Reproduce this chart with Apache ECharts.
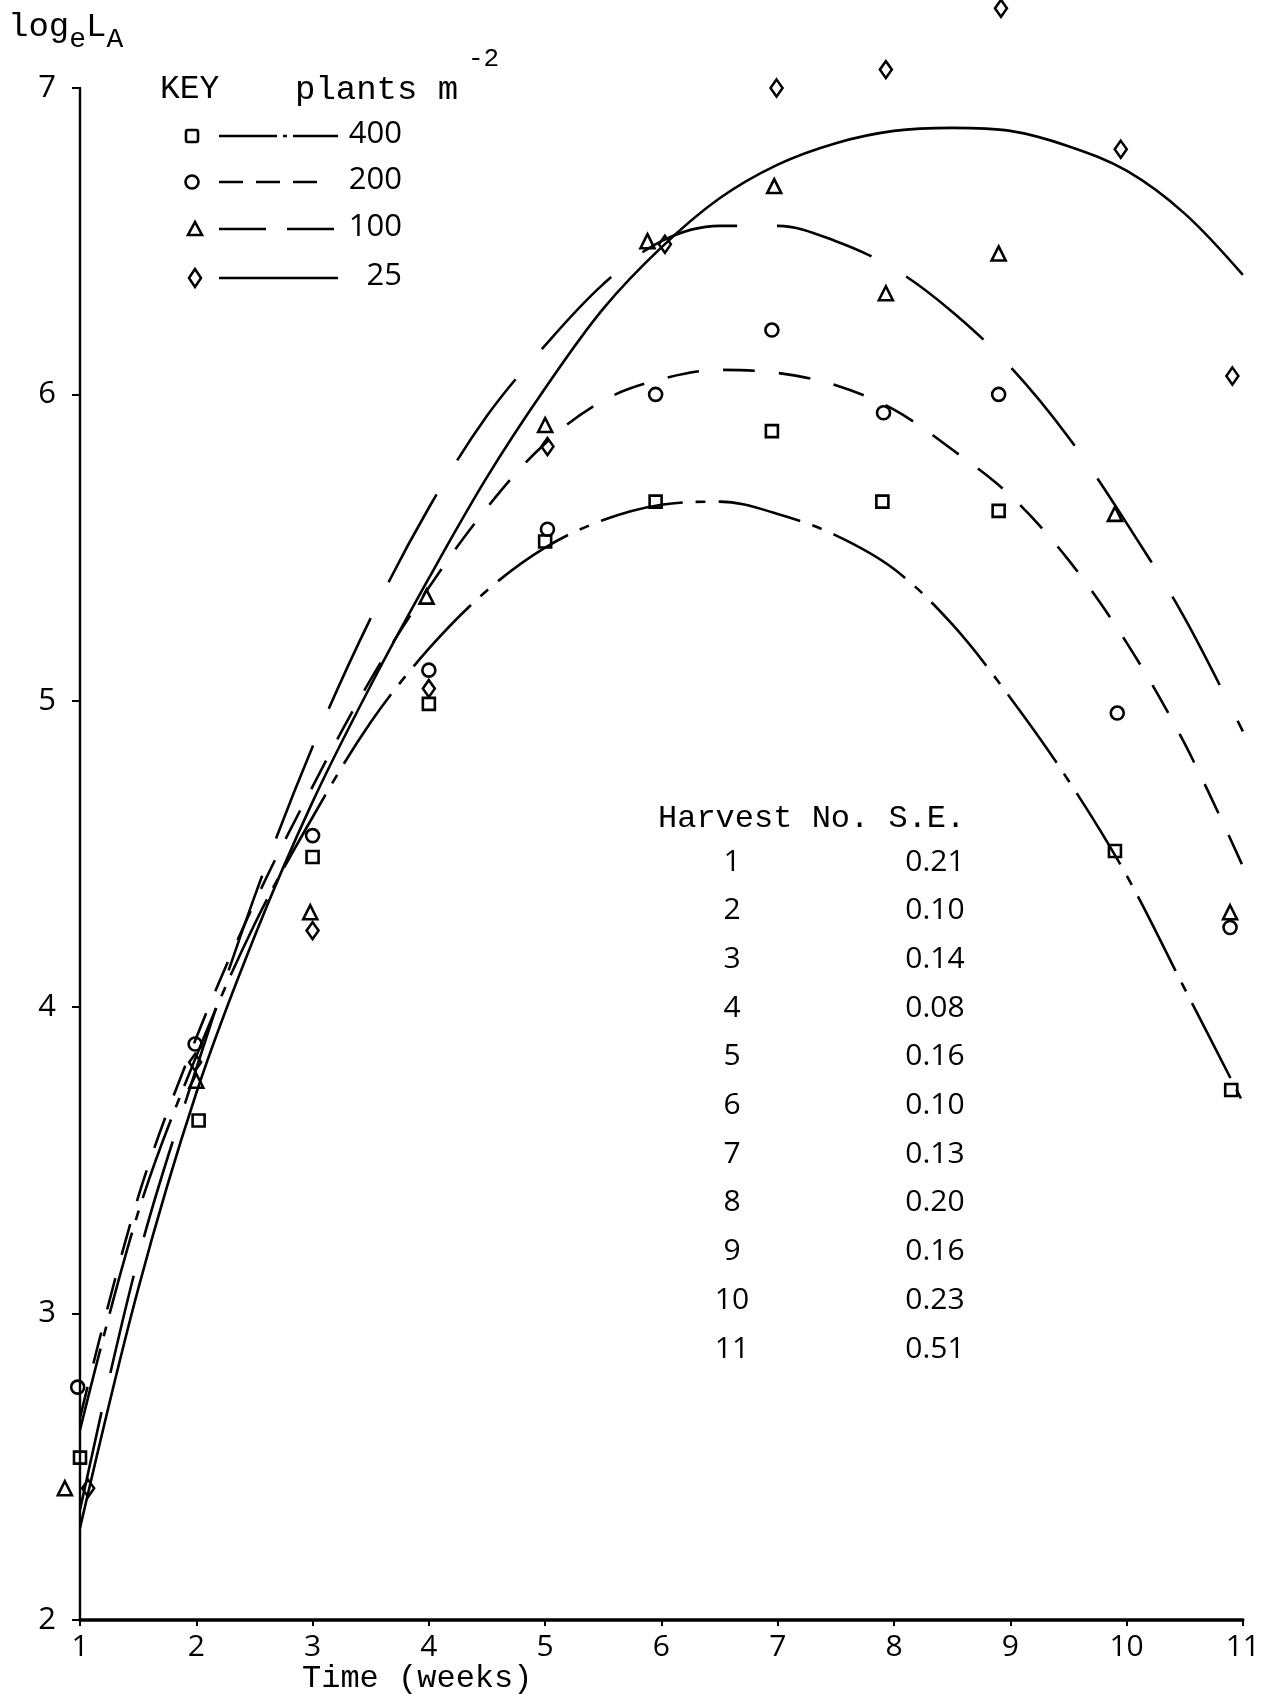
<!DOCTYPE html>
<html>
<head>
<meta charset="utf-8">
<script src="https://cdn.jsdelivr.net/npm/echarts@6/dist/echarts.min.js"></script>
<style>
html,body{margin:0;padding:0;background:#fff;}
#chart{width:1263px;height:1694px;}
</style>
</head>
<body>
<div id="chart"></div>
<script>
// ---------- data ----------
const xTicks = [1, 2, 3, 4, 5, 6, 7, 8, 9, 10, 11];
const yTicks = [2, 3, 4, 5, 6, 7];

// fitted curves (at half-week steps)
const curveWeeks = [1, 1.5, 2, 2.5, 3, 3.5, 4, 4.5, 5, 5.5, 6, 6.5, 7, 7.5, 8, 8.5, 9, 9.5, 10, 10.5, 11];
const curve400 = [2.62, 3.33, 3.84, 4.27, 4.62, 4.93, 5.17, 5.36, 5.50, 5.59, 5.64, 5.65, 5.61, 5.54, 5.43, 5.25, 5.01, 4.74, 4.43, 4.06, 3.69];
const curve200 = [2.66, 3.38, 3.90, 4.34, 4.72, 5.07, 5.37, 5.63, 5.84, 5.98, 6.05, 6.08, 6.07, 6.03, 5.95, 5.82, 5.67, 5.46, 5.19, 4.86, 4.46];
const curve100 = [2.36, 3.18, 3.80, 4.36, 4.85, 5.27, 5.63, 5.93, 6.16, 6.36, 6.50, 6.55, 6.55, 6.50, 6.41, 6.27, 6.09, 5.86, 5.58, 5.27, 4.90];
const curve25  = [2.30, 3.08, 3.72, 4.23, 4.67, 5.05, 5.40, 5.73, 6.02, 6.28, 6.48, 6.64, 6.75, 6.82, 6.86, 6.87, 6.86, 6.81, 6.73, 6.59, 6.39];

// observed points (harvest week, log_e L_A)
const sq400X = [1.0, 2.02, 3.0, 4.0, 5.0, 5.95, 6.95, 7.9, 8.9, 9.9, 10.9];
const sq400Y = [2.53, 3.63, 4.49, 4.99, 5.52, 5.65, 5.88, 5.65, 5.62, 4.51, 3.73];
const ci200X = [0.98, 1.99, 3.0, 4.0, 5.02, 5.95, 6.95, 7.91, 8.9, 9.92, 10.89];
const ci200Y = [2.76, 3.88, 4.56, 5.10, 5.56, 6.00, 6.21, 5.94, 6.00, 4.96, 4.26];
const tr100X = [0.87, 2.0, 2.98, 3.98, 5.0, 5.88, 6.97, 7.93, 8.9, 9.9, 10.89];
const tr100Y = [2.43, 3.76, 4.31, 5.34, 5.90, 6.50, 6.68, 6.33, 6.46, 5.61, 4.31];
const di25X = [1.07, 1.99, 3.0, 4.0, 5.02, 6.03, 6.99, 7.93, 8.92, 9.95, 10.91];
const di25Y = [2.43, 3.82, 4.25, 5.04, 5.83, 6.49, 7.00, 7.06, 7.26, 6.80, 6.06];

// key and S.E. table
const densities = ['400', '200', '100', '25'];
const harvestNo = ['1', '2', '3', '4', '5', '6', '7', '8', '9', '10', '11'];
const seValues = ['0.21', '0.10', '0.14', '0.08', '0.16', '0.10', '0.13', '0.20', '0.16', '0.23', '0.51'];

// ---------- helpers ----------
const INK = '#000';
const MONO = '"Liberation Mono", "DejaVu Sans Mono", monospace';
const SANS = '"Open Sans", "DejaVu Sans", sans-serif';
const pairs = (xs, ys) => xs.map((x, i) => [x, ys[i]]);

function curveSeries(name, values, dash) {
  return {
    name: name, type: 'line', data: pairs(curveWeeks, values),
    smooth: 0.35, symbol: 'none', z: 2, silent: true,
    lineStyle: { color: INK, width: 2.6, type: dash }
  };
}
function pointSeries(name, xs, ys, symbol, size) {
  return {
    name: name, type: 'scatter', data: pairs(xs, ys), clip: false,
    symbol: symbol, symbolSize: size, z: 3,
    itemStyle: { color: 'rgba(255,255,255,0)', borderColor: INK, borderWidth: 2.6, opacity: 1 }
  };
}

// ---------- legend (KEY) drawn as graphics ----------
const keyRowsY = [136, 182, 229, 278];
const keyDash = [[58, 6, 4, 6], [24, 13], [47, 21], null];
const keyGraphics = [];
keyGraphics.push({ type: 'text', left: 160, top: 73, style: { text: 'KEY', font: '33px ' + MONO, fill: INK } });
keyGraphics.push({ type: 'text', left: 295, top: 73, style: { text: 'plants m', font: '34px ' + MONO, fill: INK } });
keyGraphics.push({ type: 'text', left: 468, top: 46, style: { text: '-2', font: '26px ' + MONO, fill: INK } });
densities.forEach((d, i) => {
  const y = keyRowsY[i];
  let marker;
  const mStyle = { fill: 'rgba(255,255,255,0)', stroke: INK, lineWidth: 2.6 };
  if (i === 0) marker = { type: 'rect', shape: { x: 186, y: y - 6, width: 12, height: 12, r: 2 }, style: mStyle };
  else if (i === 1) marker = { type: 'circle', shape: { cx: 192, cy: y, r: 6.5 }, style: mStyle };
  else if (i === 2) marker = { type: 'polygon', shape: { points: [[195, y - 7], [188, y + 6], [202, y + 6]] }, style: mStyle };
  else marker = { type: 'polygon', shape: { points: [[195, y - 9], [189, y], [195, y + 9], [201, y]] }, style: mStyle };
  keyGraphics.push(marker);
  const lineEnd = i === 1 ? 318 : 338;
  const ls = { stroke: INK, lineWidth: 2.4 };
  if (keyDash[i]) ls.lineDash = keyDash[i];
  keyGraphics.push({ type: 'line', shape: { x1: 219, y1: y, x2: lineEnd, y2: y }, style: ls });
  keyGraphics.push({ type: 'text', x: 402, y: y - 2, style: { text: d, font: '31px ' + SANS, fill: INK, textAlign: 'right', textVerticalAlign: 'middle' } });
});

// ---------- S.E. table ----------
const tableGraphics = [];
tableGraphics.push({ type: 'text', x: 658, y: 819, style: { text: 'Harvest No. S.E.', font: '32px ' + MONO, fill: INK, textAlign: 'left', textVerticalAlign: 'middle' } });
harvestNo.forEach((h, i) => {
  const y = 862 + i * 48.7;
  tableGraphics.push({ type: 'text', x: 732, y: y, style: { text: h, font: '30px ' + SANS, fill: INK, textAlign: 'center', textVerticalAlign: 'middle' } });
  tableGraphics.push({ type: 'text', x: 935, y: y, style: { text: seValues[i], font: '30px ' + SANS, fill: INK, textAlign: 'center', textVerticalAlign: 'middle' } });
});

// ---------- axis titles ----------
const titleGraphics = [
  { type: 'text', left: 8, top: 10, style: {
      text: '{a|log}{s|e}{a|L}{s|A}', fill: INK,
      rich: {
        a: { font: '34px ' + MONO, fill: INK, verticalAlign: 'top', padding: [0, 0, 10, 0] },
        s: { font: '28px ' + MONO, fill: INK, verticalAlign: 'bottom', padding: [16, 0, 0, 0] }
      } } },
  { type: 'text', x: 302, y: 1679, style: { text: 'Time (weeks)', font: '32px ' + MONO, fill: INK, textAlign: 'left', textVerticalAlign: 'middle' } }
];

// ---------- chart ----------
const chart = echarts.init(document.getElementById('chart'), null, { renderer: 'canvas' });
chart.setOption({
  animation: false,
  backgroundColor: '#fff',
  grid: { left: 80, right: 14, top: 88, bottom: 74, containLabel: false },
  xAxis: {
    type: 'value', min: xTicks[0], max: xTicks[xTicks.length - 1], interval: 1,
    axisLine: { show: true, onZero: false, lineStyle: { color: INK, width: 3.5 } },
    axisTick: { show: true, length: 6, lineStyle: { color: INK, width: 2 } },
    axisLabel: { color: INK, fontFamily: SANS, fontSize: 30, margin: 12 },
    splitLine: { show: false }
  },
  yAxis: {
    type: 'value', min: yTicks[0], max: yTicks[yTicks.length - 1], interval: 1,
    axisLine: { show: true, onZero: false, lineStyle: { color: INK, width: 2.4 } },
    axisTick: { show: true, length: 8, lineStyle: { color: INK, width: 2 } },
    axisLabel: { color: INK, fontFamily: SANS, fontSize: 31, margin: 24 },
    splitLine: { show: false }
  },
  series: [
    curveSeries('400', curve400, [84, 13, 10, 13]),
    curveSeries('200', curve200, [32, 24]),
    curveSeries('100', curve100, [100, 40]),
    curveSeries('25', curve25, 'solid'),
    pointSeries('400 pts', sq400X, sq400Y, 'rect', 12),
    pointSeries('200 pts', ci200X, ci200Y, 'circle', 13),
    pointSeries('100 pts', tr100X, tr100Y, 'triangle', 14),
    pointSeries('25 pts', di25X, di25Y, 'diamond', [12, 17])
  ],
  graphic: keyGraphics.concat(tableGraphics, titleGraphics)
});
</script>
</body>
</html>
